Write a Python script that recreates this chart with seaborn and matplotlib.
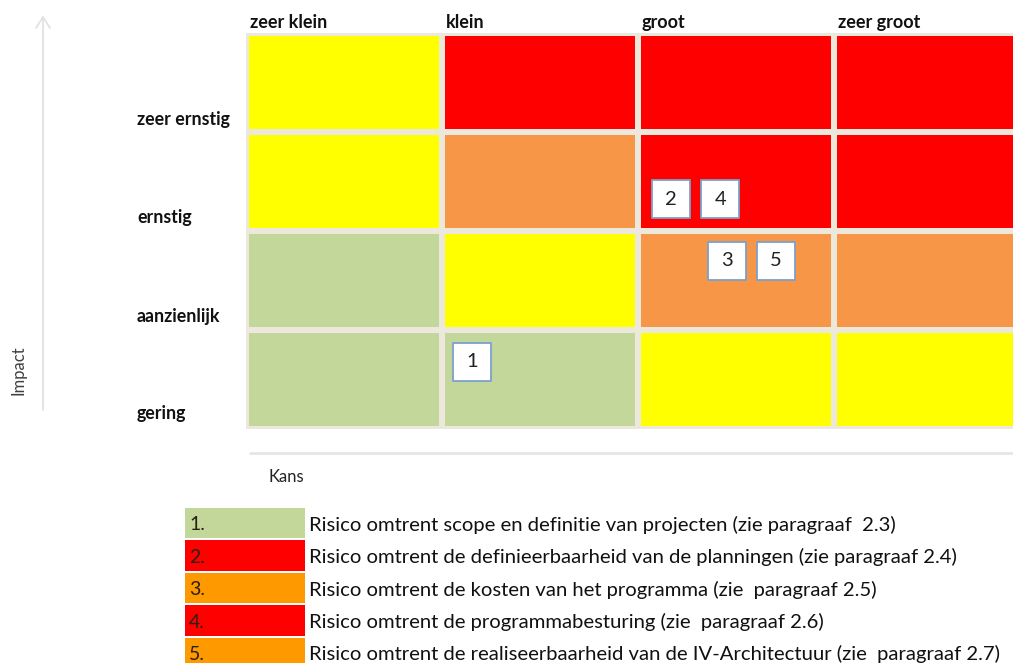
import matplotlib
matplotlib.use("Agg")
import matplotlib.pyplot as plt
from matplotlib.colors import ListedColormap
from matplotlib.lines import Line2D
import numpy as np
import pandas as pd
import seaborn as sns

# ---------------- data ----------------
kans_labels = ["zeer klein", "klein", "groot", "zeer groot"]
impact_labels = ["zeer ernstig", "ernstig", "aanzienlijk", "gering"]  # top -> bottom
# risk level per cell: 0 green, 1 yellow, 2 orange, 3 red
level_matrix = [
    [1, 3, 3, 3],
    [1, 2, 3, 3],
    [0, 1, 2, 2],
    [0, 0, 1, 1],
]
level_colors = ["#C4D79B", "#FFFF00", "#F79646", "#FF0000"]

risk_ids = ["1", "2", "3", "4", "5"]
risk_kans = [1.155, 2.17, 2.455, 2.42, 2.705]    # position along Kans axis (cell units)
risk_impact = [3.32, 1.68, 2.30, 1.68, 2.30]     # position along Impact axis (cell units, from top)

legend_numbers = ["1.", "2.", "3.", "4.", "5."]
legend_texts = [
    "Risico omtrent scope en definitie van projecten (zie paragraaf  2.3)",
    "Risico omtrent de definieerbaarheid van de planningen (zie paragraaf 2.4)",
    "Risico omtrent de kosten van het programma (zie  paragraaf 2.5)",
    "Risico omtrent de programmabesturing (zie  paragraaf 2.6)",
    "Risico omtrent de realiseerbaarheid van de IV-Architectuur (zie  paragraaf 2.7)",
]
legend_colors = ["#C4D79B", "#FF0000", "#FF9900", "#FF0000", "#FF9900"]

# ---------------- figure ----------------
W, H = 1013, 663
sns.set_style("white")
plt.rcParams["font.family"] = ["Lato", "DejaVu Sans"]
fig = plt.figure(figsize=(W / 100, H / 100), dpi=100)

def fx(px):
    return px / W

def fy(py):
    return 1 - py / H

# heatmap axes (extends slightly beyond right edge like the reference)
gx0, gx1, gy0, gy1 = 246, 1030, 33, 429
ax = fig.add_axes([fx(gx0), fy(gy1), fx(gx1 - gx0), (gy1 - gy0) / H])
df = pd.DataFrame(level_matrix, index=impact_labels, columns=kans_labels)
sns.heatmap(df, ax=ax, cmap=ListedColormap(level_colors), vmin=-0.5, vmax=3.5,
            cbar=False, linewidths=4, linecolor="#ECE8DC", xticklabels=False,
            yticklabels=False)
ax.set_xlabel("")
ax.set_ylabel("")

# column labels (top-left of each column)
for i, lab in enumerate(kans_labels):
    ax.text(i + 0.02, -0.11, lab, ha="left", va="center", fontsize=13,
            fontweight="bold", color="#111111")
# row labels (near bottom of each row, left-aligned at fixed x)
for j, lab in enumerate(impact_labels):
    fig.text(fx(137), fy(120 + j * 98), lab, ha="left", va="center",
             fontsize=12.8, fontweight="bold", color="#111111")

# risk markers
sq = (38 * 72 / 100) ** 2
ax.scatter(risk_kans, risk_impact, s=sq, marker="s", facecolor="white",
           edgecolor="#7BA0CD", linewidth=1.3, zorder=5)
for rid, xk, yi in zip(risk_ids, risk_kans, risk_impact):
    ax.text(xk, yi, rid, ha="center", va="center", fontsize=14.5,
            color="#222222", zorder=6)

# Impact arrow & label
fig.add_artist(Line2D([fx(43), fx(43)], [fy(410), fy(17)],
                      transform=fig.transFigure, color="#E2E2E2", lw=1.3))
fig.add_artist(Line2D([fx(36), fx(43), fx(50)], [fy(28), fy(17), fy(28)],
                      transform=fig.transFigure, color="#E2E2E2", lw=1.3))
fig.text(fx(18), fy(370), "Impact", rotation=90, ha="center", va="center",
         fontsize=12, color="#404040")

# Kans axis line & label
fig.add_artist(Line2D([fx(250), fx(1013)], [fy(453), fy(453)],
                      transform=fig.transFigure, color="#E6E6E6", lw=2))
fig.text(fx(268), fy(477), "Kans", ha="left", va="center", fontsize=12,
         color="#222222")

# legend table
lx0, lx1, ly0, ly1 = 185, 1013, 507, 669
lax = fig.add_axes([fx(lx0), fy(ly1), fx(lx1 - lx0), (ly1 - ly0) / H])
ypos = np.arange(len(legend_numbers))
lax.barh(ypos, [120] * len(ypos), left=0, height=0.94, color=legend_colors,
         edgecolor="none")
lax.set_xlim(0, lx1 - lx0)
lax.set_ylim(len(ypos) - 0.5, -0.5)
lax.axis("off")
for y, num, txt in zip(ypos, legend_numbers, legend_texts):
    lax.text(4, y + 0.05, num, ha="left", va="center", fontsize=14,
             color="#2A2010")
    lax.text(124, y + 0.05, txt, ha="left", va="center", fontsize=14.6,
             color="#111111")

fig.savefig("out.png", dpi=100)
